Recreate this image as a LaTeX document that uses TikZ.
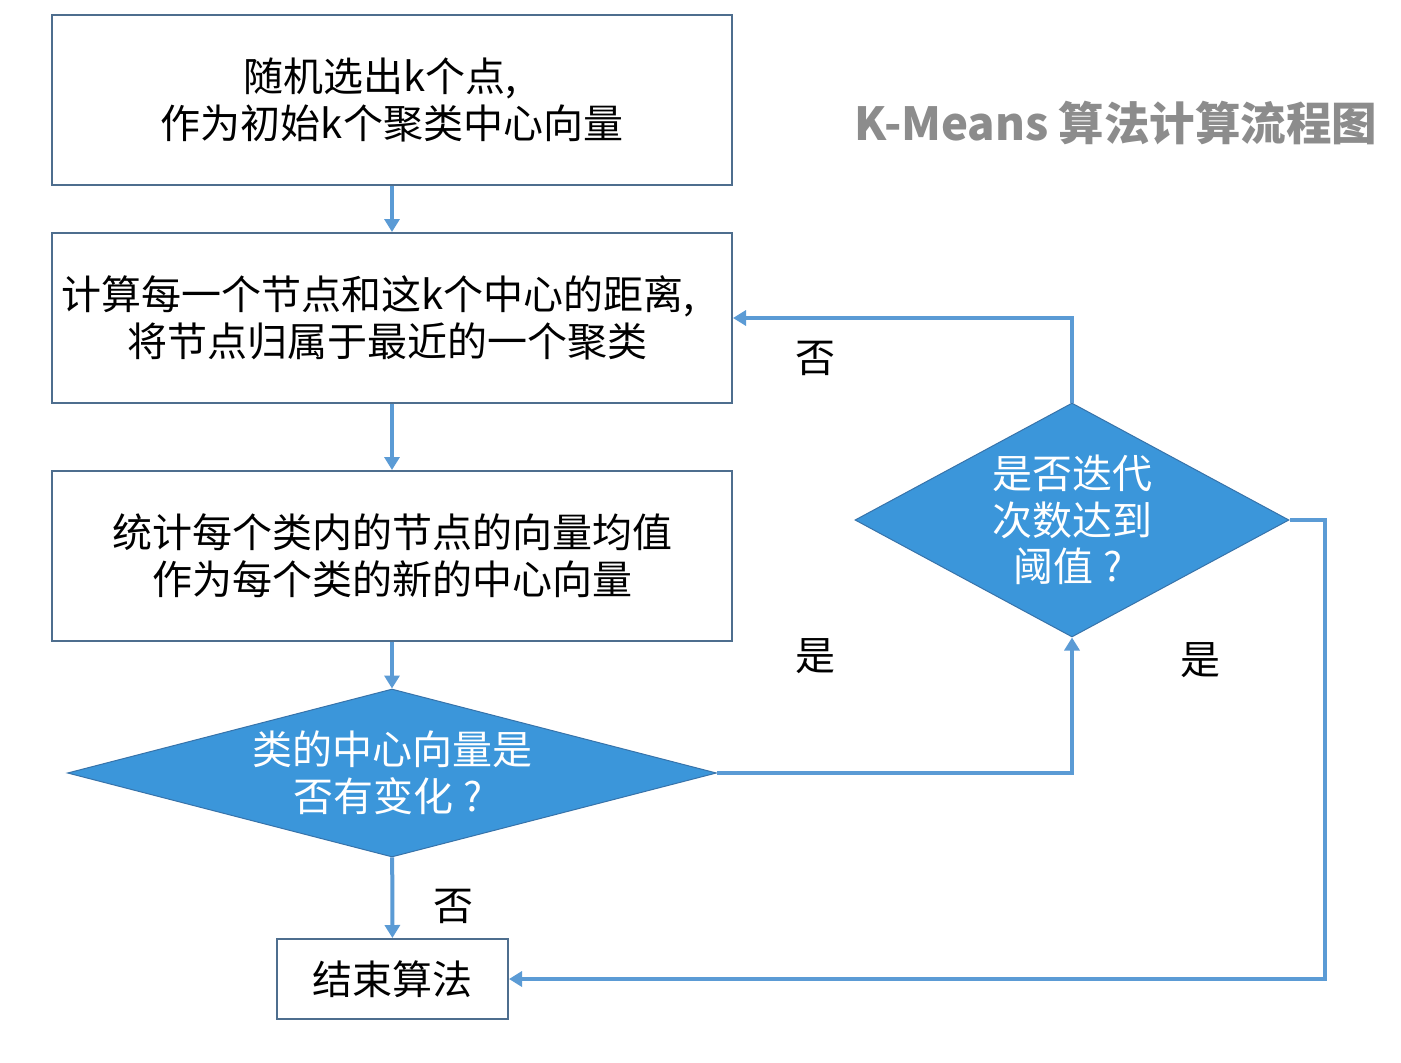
\documentclass[tikz,border=0pt]{standalone}
\usepackage{fontspec}
\setmainfont{Noto Sans CJK SC}
\usetikzlibrary{arrows.meta,shapes.geometric}
\definecolor{boxline}{RGB}{78,110,142}
\definecolor{arrowc}{RGB}{91,155,213}
\definecolor{dfill}{RGB}{59,150,218}
\definecolor{dline}{RGB}{55,115,170}
\definecolor{titlec}{RGB}{140,140,140}
\begin{document}
\begin{tikzpicture}[x=1pt,y=-1pt,
  procbox/.style={draw=boxline, line width=2pt, inner sep=0pt, align=center,
    font=\fontsize{40}{47}\selectfont},
  decision/.style={diamond, draw=dline, line width=1pt, fill=dfill, inner sep=0pt},
  dtext/.style={text=white, align=center, inner sep=0pt, font=\fontsize{40}{46.5}\selectfont},
  lbl/.style={inner sep=0pt, font=\fontsize{40}{46}\selectfont},
  conn/.style={draw=arrowc, line width=4pt, -{Triangle[length=13pt,width=15pt]}}]
\useasboundingbox (0,0) rectangle (1401,1063);
\fill[white] (0,0) rectangle (1401,1063);
\node[procbox, minimum width=680pt, minimum height=170pt] (b1) at (392,100)
  {随机选出k个点,\hspace*{24pt}\\作为初始k个聚类中心向量};
\node[procbox, minimum width=680pt, minimum height=170pt] (b2) at (392,318)
  {计算每一个节点和这k个中心的距离,\hspace*{28pt}\\将节点归属于最近的一个聚类\hspace*{8pt}};
\node[procbox, minimum width=680pt, minimum height=170pt] (b3) at (392,556)
  {统计每个类内的节点的向量均值\\作为每个类的新的中心向量};
\node[decision, minimum width=649pt, minimum height=168pt] (d1) at (392,773) {};
\node[dtext] (d1t) at (d1.center) {类的中心向量是\\否有变化\hspace{10pt}?\hspace*{8pt}};
\node[decision, minimum width=434pt, minimum height=234pt] (d2) at (1072,520) {};
\node[dtext] (d2t) at (d2.center) {是否迭代\\次数达到\\阈值\hspace{10pt}?\hspace*{8pt}};
\node[procbox, minimum width=231pt, minimum height=80pt] (e) at (392.5,979) {结束算法};
\node[inner sep=0pt, text=titlec, font=\fontsize{45.5}{50}\bfseries] (title) at (1116,123)
  {K-Means 算法计算流程图};
\node[lbl] (l1) at (815,358) {否};
\node[lbl] (l2) at (815,656) {是};
\node[lbl] (l3) at (1200,660) {是};
\node[lbl] (l4) at (453,906) {否};
\coordinate (c1) at (1325,520);
\draw[conn] (b1) -- (b2);
\draw[conn] (b2) -- (b3);
\draw[conn] (b3) -- (d1);
\draw[conn] (d1) -- (e);
\draw[conn] (d1.east) -| (d2.south);
\draw[conn] (d2.north) |- (b2.east);
\draw[conn] (d2.east) -- (c1) |- (e.east);
\end{tikzpicture}
\end{document}
